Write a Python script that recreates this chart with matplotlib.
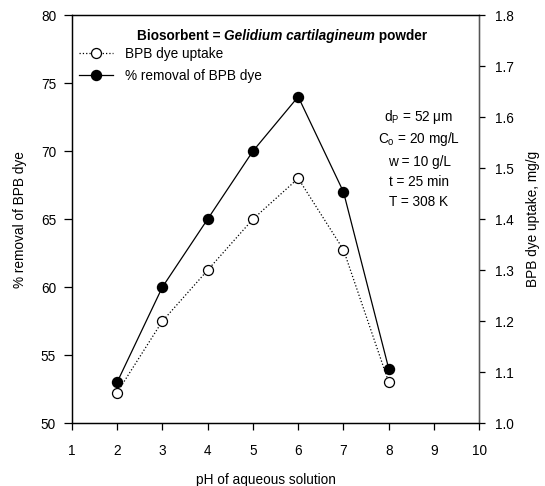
#!/usr/bin/env python3

import matplotlib
matplotlib.use('Agg')
import matplotlib.pyplot as plt

# data
ph = [2, 3, 4, 5, 6, 7, 8]
removal = [53.0, 60.0, 65.0, 70.0, 74.0, 67.0, 54.0]        # % removal (left axis)
uptake = [1.06, 1.20, 1.30, 1.40, 1.48, 1.34, 1.08]         # mg/g (right axis)

x_ticks = [1, 2, 3, 4, 5, 6, 7, 8, 9, 10]
left_ticks = [50, 55, 60, 65, 70, 75, 80]
right_ticks = [1.0, 1.1, 1.2, 1.3, 1.4, 1.5, 1.6, 1.7, 1.8]

conditions = [
    r'd$_\mathrm{P}$ = 52 μm',
    r'C$_\mathrm{o}$ = 20 mg/L',
    'w = 10 g/L',
    't = 25 min',
    'T = 308 K',
]

plt.rcParams['font.family'] = ['Liberation Sans', 'DejaVu Sans']
plt.rcParams['mathtext.fontset'] = 'custom'
plt.rcParams['mathtext.rm'] = 'Liberation Sans'
plt.rcParams['font.size'] = 9.8

fig = plt.figure(figsize=(5.45, 4.86), dpi=100)
ax = fig.add_axes([0.1316, 0.129, 0.748, 0.840])
ax2 = ax.twinx()

# % removal, filled circles, solid line
l1, = ax.plot(ph, removal, color='black', linewidth=0.9, marker='o',
              markersize=7.2, markerfacecolor='black', markeredgecolor='black',
              label='% removal of BPB dye')

# uptake, open circles, dotted line
l2, = ax2.plot(ph, uptake, color='black', linewidth=0.9, linestyle=':',
               marker='o', markersize=7.2, markerfacecolor='white',
               markeredgecolor='black', markeredgewidth=0.9,
               label='BPB dye uptake')

ax.set_xlim(1, 10)
ax.set_ylim(50, 80)
ax2.set_ylim(1.0, 1.8)
ax.set_xticks(x_ticks)
ax.set_yticks(left_ticks)
ax2.set_yticks(right_ticks)
ax2.set_yticklabels(['%.1f' % v for v in right_ticks])

ax.tick_params(axis='y', direction='out', length=5.8, width=0.9, pad=5.5)
ax.tick_params(axis='x', direction='out', length=5.0, width=0.9, pad=10)
ax2.tick_params(axis='y', direction='out', length=4.5, width=0.9, pad=6.5)

for a in (ax, ax2):
    for s in a.spines.values():
        s.set_linewidth(0.9)
ax2.spines['right'].set_color('#555555')

ax.set_xlabel('pH of aqueous solution')
ax.set_ylabel('% removal of BPB dye')
ax2.set_ylabel('BPB dye uptake, mg/g')
ax.xaxis.set_label_coords(0.477, -0.122)
ax.yaxis.set_label_coords(-0.110, 0.5)
ax2.yaxis.set_label_coords(1.115, 0.5)

ax.legend(handles=[l2, l1], loc='upper left', bbox_to_anchor=(0.005, 0.935),
          frameon=False, handlelength=2.5, handletextpad=0.9,
          labelspacing=0.55, borderaxespad=0.0)

# title line with italic species name
t1 = ax.text(0.16, 0.949, 'Biosorbent = ', transform=ax.transAxes,
             fontweight='bold', va='center', ha='left')
t2 = ax.annotate('Gelidium cartilagineum', xy=(1, 0), xycoords=t1,
                 va='bottom', ha='left', fontweight='bold', fontstyle='italic')
ax.annotate(' powder', xy=(1, 0), xycoords=t2, va='bottom', ha='left',
            fontweight='bold')

# experimental conditions
cond_y = [0.750, 0.696, 0.640, 0.591, 0.542]
for txt, yy in zip(conditions, cond_y):
    ax.text(0.852, yy, txt, transform=ax.transAxes, ha='center', va='center')

fig.savefig('out.png', dpi=100)
